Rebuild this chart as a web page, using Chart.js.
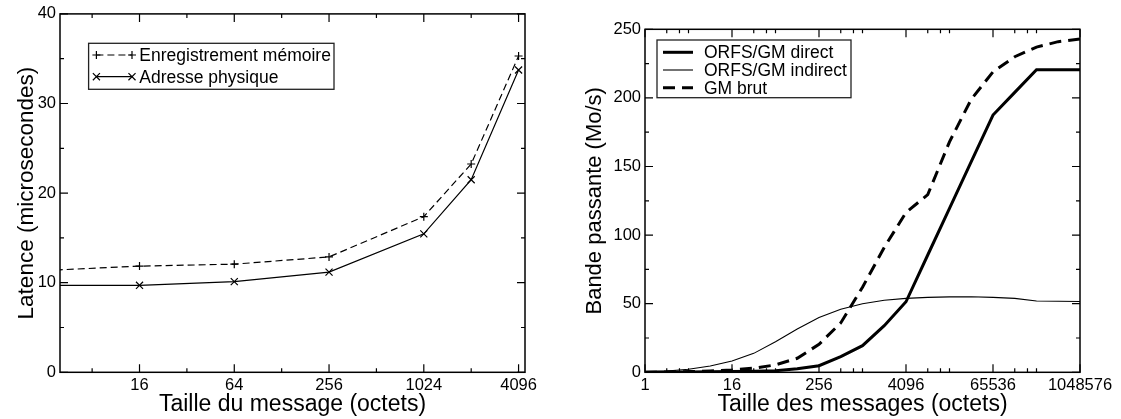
<!DOCTYPE html>
<html>
<head>
<meta charset="utf-8">
<script src="https://cdn.jsdelivr.net/npm/chart.js@4.4.1/dist/chart.umd.min.js"></script>
<style>
html, body { margin: 0; padding: 0; background: #fff; overflow: hidden; }
#wrap { position: relative; width: 1121px; height: 419px; }
.box { position: absolute; top: 0; height: 419px; }
#bl { left: 0; width: 560px; }
#br { left: 560px; width: 561px; }
</style>
</head>
<body>
<div id="wrap">
  <div class="box" id="bl"><canvas id="lat"></canvas></div>
  <div class="box" id="br"><canvas id="bw"></canvas></div>
</div>
<script>
// --- latence (gauche) ---
const latSizes = [4, 16, 64, 256, 1024, 2048, 4096];
const latEnreg = [11.36, 11.85, 12.07, 12.88, 17.37, 23.25, 35.3];
const latPhys  = [9.7, 9.71, 10.12, 11.18, 15.45, 21.49, 33.74];
const latXMajor = [16, 64, 256, 1024, 4096];
const latXMinor = [8, 32, 128, 512, 2048];
const latYMinor = [5, 15, 25, 35];

// --- bande passante (droite) ---
const bwSizes = [1, 2, 4, 8, 16, 32, 64, 128, 256, 512, 1024, 2048, 4096, 8192, 16384,
                 32768, 65536, 131072, 262144, 524288, 1048576];
const bwDirect   = [0.1, 0.2, 0.3, 0.4, 0.6, 0.8, 1.2, 2.6, 4.8, 11.5, 19.4, 34, 51.4, 85.5, 119.4,
                    153.5, 187.5, 204, 220.5, 220.5, 220.5];
const bwIndirect = [0.5, 1.0, 2.2, 4.6, 8.2, 13.8, 22.3, 31.5, 40, 45.9, 50, 52.5, 53.9, 54.6, 55,
                    55.1, 54.6, 53.9, 52, 51.8, 51.6];
const bwBrut     = [0, 0.2, 0.5, 1.0, 1.7, 3.0, 5.4, 10.2, 20.4, 36, 62, 91, 116.5, 129.5, 168,
                    199, 219, 230, 237, 241, 243];
const bwXMajor = [1, 16, 256, 4096, 65536, 1048576];
const bwXMinor = [2, 3, 4, 32, 48, 64, 512, 768, 1024, 8192, 12288, 16384, 131072, 196608, 262144];
const bwYMinor = [25, 75, 125, 175, 225];

const FONT = "'Liberation Sans', Arial, Helvetica, sans-serif";
Chart.defaults.font.family = FONT;
Chart.defaults.color = '#000';

const pts = (xs, ys) => xs.map((x, i) => ({ x: x, y: ys[i] }));

function marker(ctx, style, x, y, r) {
  ctx.beginPath();
  if (style === 'cross') {
    ctx.moveTo(x - r, y); ctx.lineTo(x + r, y);
    ctx.moveTo(x, y - r); ctx.lineTo(x, y + r);
  } else {
    const d = r * 0.7071;
    ctx.moveTo(x - d, y - d); ctx.lineTo(x + d, y + d);
    ctx.moveTo(x - d, y + d); ctx.lineTo(x + d, y - d);
  }
  ctx.stroke();
}

// cadre + graduations vers l'intérieur sur les 4 côtés
const frameTicks = {
  id: 'frameTicks',
  afterDraw(chart, args, o) {
    const { ctx, chartArea: a } = chart;
    const x = chart.scales.x, y = chart.scales.y;
    ctx.save();
    ctx.strokeStyle = '#000';
    ctx.lineWidth = 1.2;
    const xt = (vals, len) => vals.forEach(v => {
      const p = x.getPixelForValue(v);
      if (p < a.left - 0.5 || p > a.right + 0.5) return;
      ctx.beginPath();
      ctx.moveTo(p, a.bottom); ctx.lineTo(p, a.bottom - len);
      ctx.moveTo(p, a.top); ctx.lineTo(p, a.top + len);
      ctx.stroke();
    });
    const yt = (vals, len) => vals.forEach(v => {
      const p = y.getPixelForValue(v);
      ctx.beginPath();
      ctx.moveTo(a.left, p); ctx.lineTo(a.left + len, p);
      ctx.moveTo(a.right, p); ctx.lineTo(a.right - len, p);
      ctx.stroke();
    });
    xt(o.xMajor, 8); xt(o.xMinor, 4);
    yt(y.ticks.map(t => t.value), 8); yt(o.yMinor, 4);
    ctx.lineWidth = 1.5;
    ctx.strokeRect(a.left, a.top, a.right - a.left, a.bottom - a.top);
    ctx.restore();
  }
};

// légende encadrée dans la zone de tracé
const boxLegend = {
  id: 'boxLegend',
  afterDraw(chart, args, o) {
    const ctx = chart.ctx;
    ctx.save();
    ctx.fillStyle = '#fff';
    ctx.fillRect(o.x, o.y, o.w, o.h);
    ctx.strokeStyle = '#222';
    ctx.lineWidth = 1.3;
    ctx.strokeRect(o.x, o.y, o.w, o.h);
    chart.data.datasets.forEach((ds, i) => {
      const ry = o.rows[i];
      ctx.strokeStyle = '#000';
      ctx.lineWidth = ds.borderWidth;
      ctx.setLineDash(ds.borderDash || []);
      ctx.beginPath();
      ctx.moveTo(o.s0, ry); ctx.lineTo(o.s1, ry);
      ctx.stroke();
      ctx.setLineDash([]);
      if (ds.legendMarker) {
        ctx.lineWidth = 1.2;
        marker(ctx, ds.legendMarker, o.s0, ry, ds.pointRadius);
        marker(ctx, ds.legendMarker, o.s1, ry, ds.pointRadius);
      }
      ctx.fillStyle = '#000';
      ctx.font = o.size + 'px ' + FONT;
      ctx.textBaseline = 'middle';
      ctx.fillText(ds.label, o.tx, ry + 1);
    });
    ctx.restore();
  }
};

function axisX(min, max, major, title, h) {
  return {
    type: 'logarithmic', min: min, max: max,
    afterBuildTicks: s => { s.ticks = major.map(v => ({ value: v })); },
    afterFit: s => { s.height = h; },
    grid: { display: false, drawTicks: false },
    border: { display: false },
    ticks: { autoSkip: false, maxRotation: 0, padding: 3, font: { size: 16.5 }, callback: v => String(v) },
    title: { display: true, text: title, font: { size: 23, lineHeight: 1.2 }, padding: { top: 0, bottom: 1 } }
  };
}
function axisY(max, step, title, w, size, pad) {
  return {
    type: 'linear', min: 0, max: max,
    afterFit: s => { s.width = w; },
    grid: { display: false, drawTicks: false },
    border: { display: false },
    ticks: { stepSize: step, padding: 4, font: { size: 16.5 } },
    title: { display: true, text: title, font: { size: size, lineHeight: 1.2 }, padding: { top: pad, bottom: 0 } }
  };
}

new Chart(document.getElementById('lat'), {
  type: 'line',
  data: {
    datasets: [
      { label: 'Enregistrement mémoire', data: pts(latSizes, latEnreg), borderColor: '#000', borderWidth: 1.2,
        borderDash: [7, 4], pointStyle: 'cross', pointRadius: 4, pointBorderWidth: 1.2, pointBorderColor: '#000',
        legendMarker: 'cross', tension: 0, fill: false },
      { label: 'Adresse physique', data: pts(latSizes, latPhys), borderColor: '#000', borderWidth: 1.2,
        pointStyle: 'crossRot', pointRadius: 5, pointBorderWidth: 1.2, pointBorderColor: '#000',
        legendMarker: 'crossRot', tension: 0, fill: false }
    ]
  },
  options: {
    responsive: true, maintainAspectRatio: false, animation: false,
    layout: { padding: { top: 10, right: 35, left: 0, bottom: 0 } },
    scales: {
      x: axisX(5, 4500, latXMajor, 'Taille du message (octets)', 46.7),
      y: axisY(40, 10, 'Latence (microsecondes)', 60, 22.5, 13)
    },
    plugins: {
      legend: { display: false }, tooltip: { enabled: false },
      frameTicks: { xMajor: latXMajor, xMinor: latXMinor, yMinor: latYMinor },
      boxLegend: { x: 88.6, y: 43.3, w: 245.4, h: 46, rows: [55, 76.7], s0: 96.4, s1: 132, tx: 139.3, size: 17.5 }
    }
  },
  plugins: [frameTicks, boxLegend]
});

new Chart(document.getElementById('bw'), {
  type: 'line',
  data: {
    datasets: [
      { label: 'ORFS/GM direct', data: pts(bwSizes, bwDirect), borderColor: '#000', borderWidth: 3,
        pointRadius: 0, tension: 0, fill: false },
      { label: 'ORFS/GM indirect', data: pts(bwSizes, bwIndirect), borderColor: '#000', borderWidth: 1.1,
        pointRadius: 0, tension: 0, fill: false },
      { label: 'GM brut', data: pts(bwSizes, bwBrut), borderColor: '#000', borderWidth: 3, borderDash: [12, 7],
        pointRadius: 0, tension: 0, fill: false }
    ]
  },
  options: {
    responsive: true, maintainAspectRatio: false, animation: false,
    layout: { padding: { top: 29.3, right: 41, left: 0, bottom: 0 } },
    scales: {
      x: axisX(1, 1048576, bwXMajor, 'Taille des messages (octets)', 46.7),
      y: axisY(250, 50, 'Bande passante (Mo/s)', 85, 22, 22)
    },
    plugins: {
      legend: { display: false }, tooltip: { enabled: false },
      frameTicks: { xMajor: bwXMajor, xMinor: bwXMinor, yMinor: bwYMinor },
      boxLegend: { x: 97, y: 40, w: 194, h: 57.7, rows: [52.3, 70, 87.7], s0: 103, s1: 133, tx: 144, size: 17.5 }
    }
  },
  plugins: [frameTicks, boxLegend]
});
</script>
</body>
</html>
